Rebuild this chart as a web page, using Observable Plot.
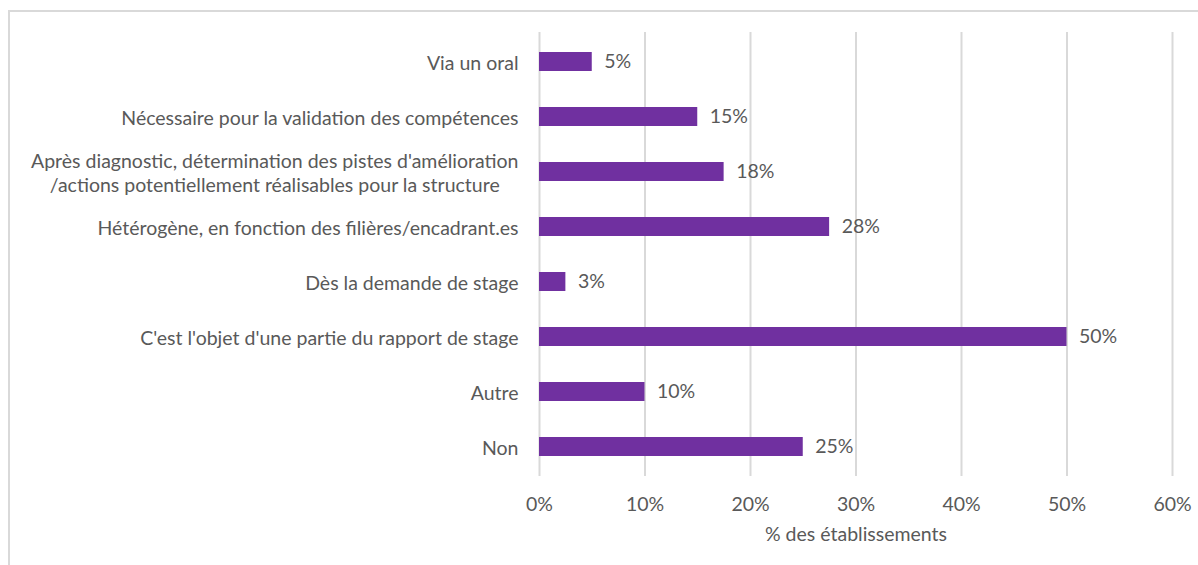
<!DOCTYPE html>
<html>
<head>
<meta charset="utf-8">
<script src="https://cdn.jsdelivr.net/npm/d3@7"></script>
<script src="https://cdn.jsdelivr.net/npm/@observablehq/plot@0.6"></script>
<style>
  html, body { margin: 0; padding: 0; background: #fff; }
  #wrap { position: relative; width: 1198px; height: 565px; overflow: hidden; }
  #frame { position: absolute; left: 8px; top: 10px; width: 1300px; height: 700px;
           border-top: 2px solid #d9d9d9; border-left: 2px solid #d9d9d9; pointer-events: none; }
</style>
</head>
<body>
<div id="wrap"><div id="frame"></div></div>
<script>
const categories = [
  "Via un oral",
  "Nécessaire pour la validation des compétences",
  "Après diagnostic, détermination des pistes d'amélioration\n/actions potentiellement réalisables pour la structure",
  "Hétérogène, en fonction des filières/encadrant.es",
  "Dès la demande de stage",
  "C'est l'objet d'une partie du rapport de stage",
  "Autre",
  "Non"
];
const values = [5, 15, 17.5, 27.5, 2.5, 50, 10, 25];
const valueLabels = ["5%", "15%", "18%", "28%", "3%", "50%", "10%", "25%"];
const xTicks = [0, 10, 20, 30, 40, 50, 60];
const xTitle = "% des établissements";

const data = categories.map((c, i) => ({category: c, value: values[i], label: valueLabels[i]}));

const FONT = "Lato, 'Open Sans', sans-serif";
const TXT = "#595959";
const FS = 19.5;

const chart = Plot.plot({
  width: 1198,
  height: 565,
  marginLeft: 539,
  marginRight: 26,
  marginTop: 32,
  marginBottom: 89,
  style: {fontFamily: FONT, fontSize: FS + "px", color: TXT, background: "transparent", overflow: "visible"},
  x: {domain: [0, 60]},
  y: {domain: categories, paddingInner: 0.66, paddingOuter: 0.33},
  marks: [
    Plot.gridX(xTicks, {stroke: "#d9d9d9", strokeWidth: 2, strokeOpacity: 1}),
    Plot.barX(data, {y: "category", x: "value", fill: "#7030A0"}),
    Plot.text(data, {y: "category", x: "value", text: "label", textAnchor: "start", dx: 12, fill: TXT, fontSize: FS}),
    Plot.axisY({tickSize: 0, tickPadding: 21, label: null, fontSize: FS, lineHeight: 1.23}),
    Plot.axisX({ticks: xTicks, tickSize: 0, tickPadding: 21, tickFormat: d => d + "%", fontSize: FS,
                label: xTitle, labelAnchor: "center", labelArrow: "none", labelOffset: 64})
  ]
});
document.getElementById("wrap").appendChild(chart);
chart.style.position = "absolute";
chart.style.left = "0px";
chart.style.top = "0px";

// center the lines of the multi-line category label, as in the source
chart.querySelectorAll("g[aria-label='y-axis tick label'] text").forEach(t => {
  const spans = t.querySelectorAll("tspan");
  if (spans.length > 1) {
    const bb = t.getBBox();
    const cx = bb.x + bb.width / 2;
    t.setAttribute("text-anchor", "middle");
    spans.forEach(s => s.setAttribute("x", cx));
  }
});
</script>
</body>
</html>
